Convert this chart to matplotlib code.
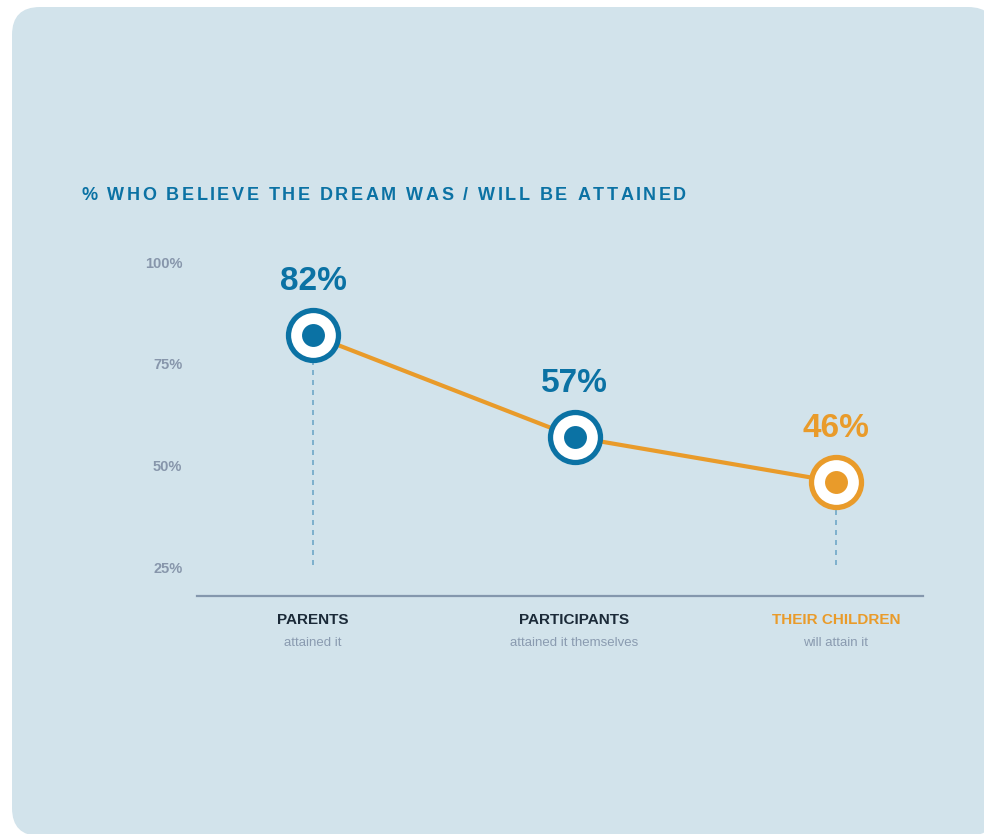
import matplotlib
matplotlib.use("Agg")
import matplotlib.pyplot as plt
from matplotlib.patches import FancyBboxPatch
from matplotlib.transforms import IdentityTransform

# data
groups = ["PARENTS", "PARTICIPANTS", "THEIR CHILDREN"]
subtitles = ["attained it", "attained it themselves", "will attain it"]
values = [82, 57, 46]
yticks = [25, 50, 75, 100]
drop_lines = [True, False, True]

title = "% WHO BELIEVE THE DREAM WAS / WILL BE ATTAINED"

# colours
BG = "#d2e3eb"
BLUE = "#0b72a4"
ORANGE = "#e99b2a"
point_colors = [BLUE, BLUE, ORANGE]
label_colors = ["#1b2a38", "#1b2a38", ORANGE]
TICK_GRAY = "#8796ab"
SUB_GRAY = "#8a9bb0"
BASE_GRAY = "#8497ad"
DASH = "#6fa8c8"

plt.rcParams["font.family"] = ["Liberation Sans", "DejaVu Sans"]

W, H = 984, 834
fig = plt.figure(figsize=(W / 100, H / 100), dpi=100)
fig.patch.set_facecolor("white")

# rounded card in pixel coordinates (origin bottom-left)
card = FancyBboxPatch((12, H - 836), 996 - 12, 836 - 7,
                      boxstyle="round,pad=0,rounding_size=28",
                      transform=IdentityTransform(), facecolor=BG,
                      edgecolor="none", zorder=-10)
fig.patches.append(card)

# plot area: x 197..923 px, y 250..596 px
ax = fig.add_axes([197 / W, (H - 596) / H, 726 / W, 346 / H])
ax.set_zorder(1)
ax.set_facecolor("none")
ax.set_xlim(-0.444, 2.333)
ax.set_ylim(17.9, 103)
for s in ["top", "right", "left"]:
    ax.spines[s].set_visible(False)
ax.spines["bottom"].set_color(BASE_GRAY)
ax.spines["bottom"].set_linewidth(1.6)
ax.set_xticks([])
ax.set_yticks(yticks)
ax.set_yticklabels([f"{t}%" for t in yticks], fontsize=10.5,
                   fontweight="bold", color=TICK_GRAY)
ax.tick_params(axis="y", length=0, pad=10.5)

xs = list(range(len(values)))

# dashed drop lines down to 25%
for x, v, show in zip(xs, values, drop_lines):
    if show:
        ax.plot([x, x], [25.5, v], color=DASH, lw=1.2,
                linestyle=(0, (3, 3)), zorder=1)

# connecting line
ax.plot(xs, values, color=ORANGE, lw=3.0, zorder=2, solid_capstyle="round")

# ring markers with inner dot
for x, v, c in zip(xs, values, point_colors):
    ax.plot(x, v, "o", markersize=36, markerfacecolor="white",
            markeredgecolor=c, markeredgewidth=3.8, zorder=3)
    ax.plot(x, v, "o", markersize=16.5, markerfacecolor=c,
            markeredgecolor="none", zorder=4)
    ax.annotate(f"{v}%", (x, v), xytext=(0, 38.5), textcoords="offset points",
                ha="center", va="center", fontsize=24, fontweight="bold",
                color=c, zorder=5)

# category labels under the axis
for x, g, s, c in zip(xs, groups, subtitles, label_colors):
    ax.annotate(g, (x, 0), xycoords=("data", "axes fraction"),
                xytext=(0, -17.5), textcoords="offset points",
                ha="center", va="center", fontsize=11, fontweight="bold",
                color=c)
    ax.annotate(s, (x, 0), xycoords=("data", "axes fraction"),
                xytext=(0, -33.5), textcoords="offset points",
                ha="center", va="center", fontsize=9.5, color=SUB_GRAY)

# title with letter spacing, laid out char by char
renderer = fig.canvas.get_renderer()
x_px = 81
y_px = H - 195
tracking = 2.5
fs = 13
probe = fig.text(0, 0, "a a", fontsize=fs, fontweight="bold")
probe2 = fig.text(0, 0, "aa", fontsize=fs, fontweight="bold")
space_w = (probe.get_window_extent(renderer).width
           - probe2.get_window_extent(renderer).width)
probe.remove()
probe2.remove()
for ch in title:
    if ch == " ":
        x_px += space_w + tracking
        continue
    t = fig.text(x_px / W, y_px / H, ch, fontsize=fs, fontweight="bold",
                 color=BLUE, ha="left", va="center")
    x_px += t.get_window_extent(renderer).width + tracking

fig.savefig("out.png", dpi=100, facecolor="white")
